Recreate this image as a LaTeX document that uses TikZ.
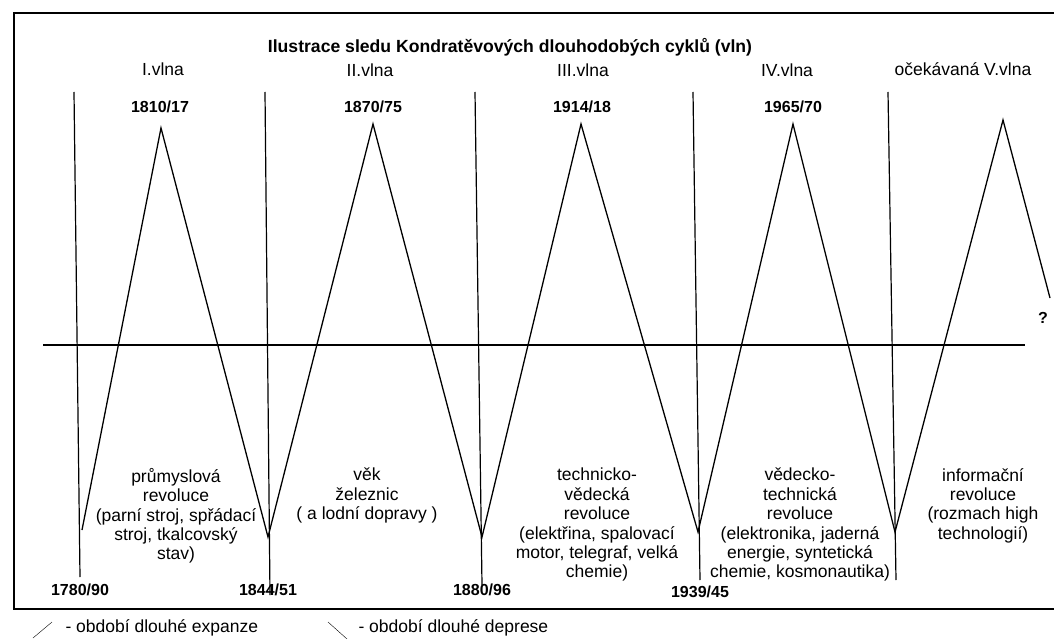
\documentclass[tikz,border=0pt]{standalone}
\usepackage{fontspec}
\setmainfont{Liberation Sans}
\begin{document}
\begin{tikzpicture}[x=1pt,y=-1pt]
\useasboundingbox (0,0) rectangle (1054,639);

      % frame
      \draw[line width=1.6pt] (1054,13) -- (14,13) -- (14,609) -- (1054,609);

      % wave boundaries
      \begin{scope}[line width=1.2pt]
        \coordinate (a1) at (74,92);   \coordinate (b1) at (80,577);
        \coordinate (a2) at (265,92);  \coordinate (b2) at (270,595);
        \coordinate (a3) at (475,92);  \coordinate (b3) at (482,585);
        \coordinate (a4) at (693,92);  \coordinate (b4) at (700,580);
        \coordinate (a5) at (888,92);  \coordinate (b5) at (896,580);
        \draw (a1) -- (b1);
        \draw (a2) -- (b2);
        \draw (a3) -- (b3);
        \draw (a4) -- (b4);
        \draw (a5) -- (b5);
      \end{scope}

      % axis
      \coordinate (h1) at (43,345);
      \coordinate (h2) at (1025,345);
      \draw[line width=2pt] (h1) -- (h2);

      % cycles
      \coordinate (t1) at (82,530);
      \coordinate (p1) at (161,128);
      \coordinate (t2) at (268,537);
      \coordinate (p2) at (373,124);
      \coordinate (t3) at (482,537);
      \coordinate (p3) at (581,124);
      \coordinate (t4) at (698,532);
      \coordinate (p4) at (793,124);
      \coordinate (t5) at (895,532);
      \coordinate (p5) at (1003,120);
      \coordinate (e)  at (1050,298);
      \draw[line width=1.3pt] (t1) -- (p1) -- (t2) -- (p2) -- (t3) -- (p3)
        -- (t4) -- (p4) -- (t5) -- (p5) -- (e);

      \begin{scope}[every node/.style={font=\fontsize{16}{19}\selectfont\bfseries}]
        \node (title) at (510,47)  {\fontsize{17.6}{20}\selectfont Ilustrace sledu Kondratěvových dlouhodobých cyklů (vln)};
        \node (y1)    at (160,107) {1810/17};
        \node (y2)    at (373,107) {1870/75};
        \node (y3)    at (582,107) {1914/18};
        \node (y4)    at (793,107) {1965/70};
        \node (z1)    at (80,590)  {1780/90};
        \node (z2)    at (268,590) {1844/51};
        \node (z3)    at (482,590) {1880/96};
        \node (z4)    at (700,592) {1939/45};
        \node (q)     at (1043,318) {?};
      \end{scope}

      \begin{scope}[every node/.style={font=\fontsize{17.5}{19.5}\selectfont}]
        \node (w1) at (163,69) {I.vlna};
        \node (w2) at (370,70) {II.vlna};
        \node (w3) at (583,70) {III.vlna};
        \node (w4) at (787,70) {IV.vlna};
        \node (w5) at (963,69) {očekávaná V.vlna};
      \end{scope}

      \begin{scope}[every node/.style={font=\fontsize{17.5}{19.4}\selectfont,align=center,anchor=north,inner sep=0pt}]
        \node (r1) at (176,468) {průmyslová\\revoluce\\(parní stroj, spřádací\\stroj, tkalcovský\\stav)};
        \node (r2) at (367,468) {věk\\železnic\\( a lodní dopravy )};
        \node (r3) at (597,468) {technicko-\\vědecká\\revoluce\\(elektřina, spalovací\\motor, telegraf, velká\\chemie)};
        \node (r4) at (800,468) {vědecko-\\technická\\revoluce\\(elektronika, jaderná\\energie, syntetická\\chemie, kosmonautika)};
        \node (r5) at (983,468) {informační\\revoluce\\(rozmach high\\technologií)};
      \end{scope}

      % legend
      \coordinate (s1) at (33,638);  \coordinate (s2) at (52,622);
      \coordinate (d1) at (328,622); \coordinate (d2) at (347,639);
      \draw (s1) -- (s2);
      \draw (d1) -- (d2);
      \begin{scope}[every node/.style={font=\fontsize{17.5}{19.5}\selectfont,anchor=west}]
        \node (l1) at (62,628)  {- období dlouhé expanze};
        \node (l2) at (355,628) {- období dlouhé deprese};
      \end{scope}

    \end{tikzpicture}
\end{document}
